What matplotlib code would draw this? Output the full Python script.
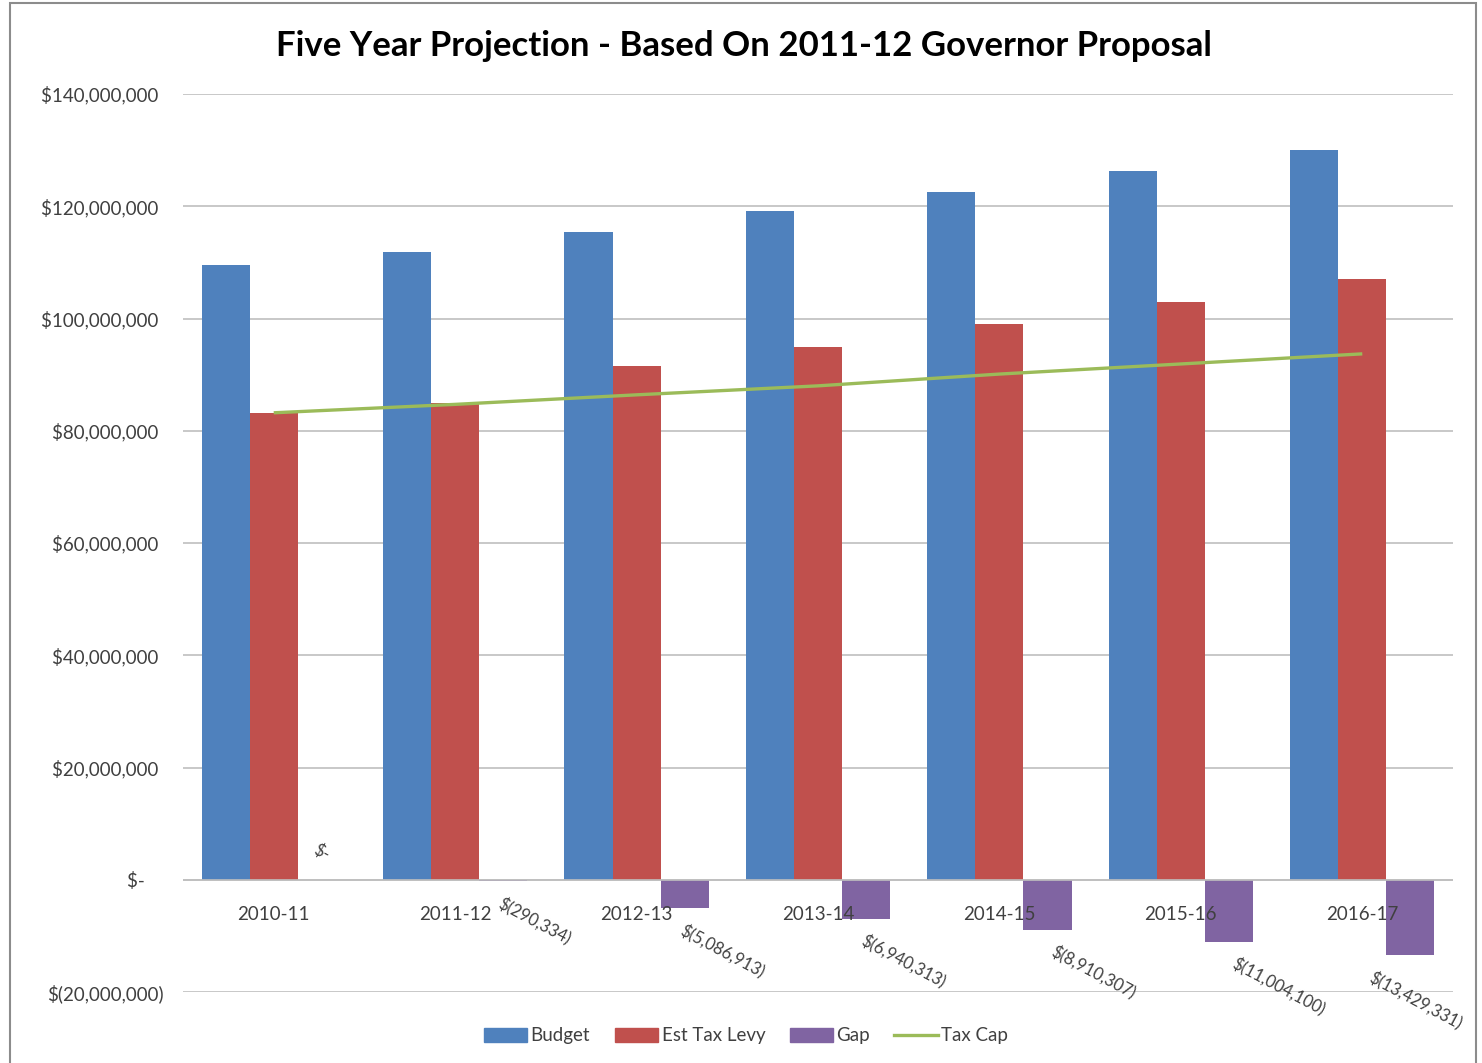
import matplotlib
matplotlib.use("Agg")
import matplotlib.pyplot as plt
import numpy as np
from matplotlib.patches import Rectangle
from matplotlib.lines import Line2D
from matplotlib.ticker import FixedLocator

plt.rcParams['font.family'] = ['Lato', 'DejaVu Sans']

years = ["2010-11", "2011-12", "2012-13", "2013-14", "2014-15", "2015-16", "2016-17"]
budget = [109.6e6, 111.8e6, 115.5e6, 119.1e6, 122.5e6, 126.2e6, 130.1e6]
tax_levy = [83.2e6, 85.0e6, 91.5e6, 95.0e6, 99.0e6, 102.9e6, 107.1e6]
gap = [0, -290334, -5086913, -6940313, -8910307, -11004100, -13429331]
tax_cap = [83.2e6, 84.7e6, 86.4e6, 88.0e6, 90.1e6, 91.9e6, 93.7e6]
gap_labels = ["$-", "$(290,334)", "$(5,086,913)", "$(6,940,313)", "$(8,910,307)", "$(11,004,100)", "$(13,429,331)"]
ytick_vals = [-20e6, 0, 20e6, 40e6, 60e6, 80e6, 100e6, 120e6, 140e6]
ytick_labels = ["$(20,000,000)", "$-    ", "$20,000,000 ", "$40,000,000 ", "$60,000,000 ",
                "$80,000,000 ", "$100,000,000 ", "$120,000,000 ", "$140,000,000 "]

c_blue = "#4F81BD"
c_red = "#C0504D"
c_purple = "#8064A2"
c_green = "#9BBB59"
grid_c = "#BFBFBF"
text_c = "#404040"

W, H = 1482, 1063
fig = plt.figure(figsize=(W / 100, H / 100), dpi=100)
ax = fig.add_axes([183 / W, 1 - 992 / H, (1453 - 183) / W, (992 - 94) / H])

x = np.arange(len(years))
bw = 0.265
ax.bar(x - bw, budget, bw, color=c_blue, label="Budget", zorder=3)
ax.bar(x, tax_levy, bw, color=c_red, label="Est Tax Levy", zorder=3)
ax.bar(x + bw, gap, bw, color=c_purple, label="Gap", zorder=3)
ax.plot(x, tax_cap, color=c_green, lw=2.4, label="Tax Cap", zorder=4, solid_capstyle='butt')

ax.set_xlim(-0.5, len(years) - 0.5)
ax.set_ylim(-20e6, 140e6)
ax.yaxis.set_major_locator(FixedLocator(ytick_vals))
ax.set_yticklabels(ytick_labels)
ax.set_xticks(x)
ax.set_xticklabels([])
ax.tick_params(axis='both', length=0, labelsize=13.5, labelcolor=text_c)
ax.tick_params(axis='y', pad=14)
ax.grid(axis='y', color=grid_c, lw=1.2, zorder=0)
for s in ['top', 'right', 'left', 'bottom']:
    ax.spines[s].set_visible(False)
ax.axhline(0, color=grid_c, lw=1.2, zorder=5)

# category labels drawn above bars
for i, yr in enumerate(years):
    ax.annotate(yr, (x[i], 0), xytext=(0, -25), textcoords='offset points',
                ha='center', va='center', fontsize=13.5, color=text_c, zorder=10)

# data labels for gap
for i, (v, lab) in enumerate(zip(gap, gap_labels)):
    xc = x[i] + bw
    if v == 0:
        ax.annotate(lab, (xc, v), xytext=(0, 12), textcoords='offset points',
                    ha='center', va='bottom', rotation=-28, fontsize=12, color=text_c)
    else:
        dx = -26 if i == len(gap) - 1 else (6 if i >= 4 else 0)
        ax.annotate(lab, (xc, v), xytext=(dx, -10), textcoords='offset points',
                    ha='left', va='top', rotation=-28, rotation_mode='anchor',
                    fontsize=12, color=text_c, zorder=10)

fig.text(744 / W, 1 - 46 / H, "Five Year Projection - Based On 2011-12 Governor Proposal",
         ha='center', va='center', fontsize=25, fontweight='bold', color='black')

handles = [Rectangle((0, 0), 1, 1, color=c_blue), Rectangle((0, 0), 1, 1, color=c_red),
           Rectangle((0, 0), 1, 1, color=c_purple), Line2D([0], [0], color=c_green, lw=2.4)]
fig.legend(handles, ["Budget", "Est Tax Levy", "Gap", "Tax Cap"], loc='center',
           bbox_to_anchor=(746 / W, 1 - 1036 / H), ncol=4, frameon=False, fontsize=13.5,
           handlelength=2.3, handleheight=0.7, handletextpad=0.2, columnspacing=1.3,
           labelcolor=text_c)

# outer chart border
fig.patches.append(Rectangle((10 / W, -0.01), (1476 - 10) / W, 1 - 3 / H + 0.01,
                             transform=fig.transFigure, fill=False, ec="#8C8C8C", lw=1.5))

fig.savefig("out.png", dpi=100)
